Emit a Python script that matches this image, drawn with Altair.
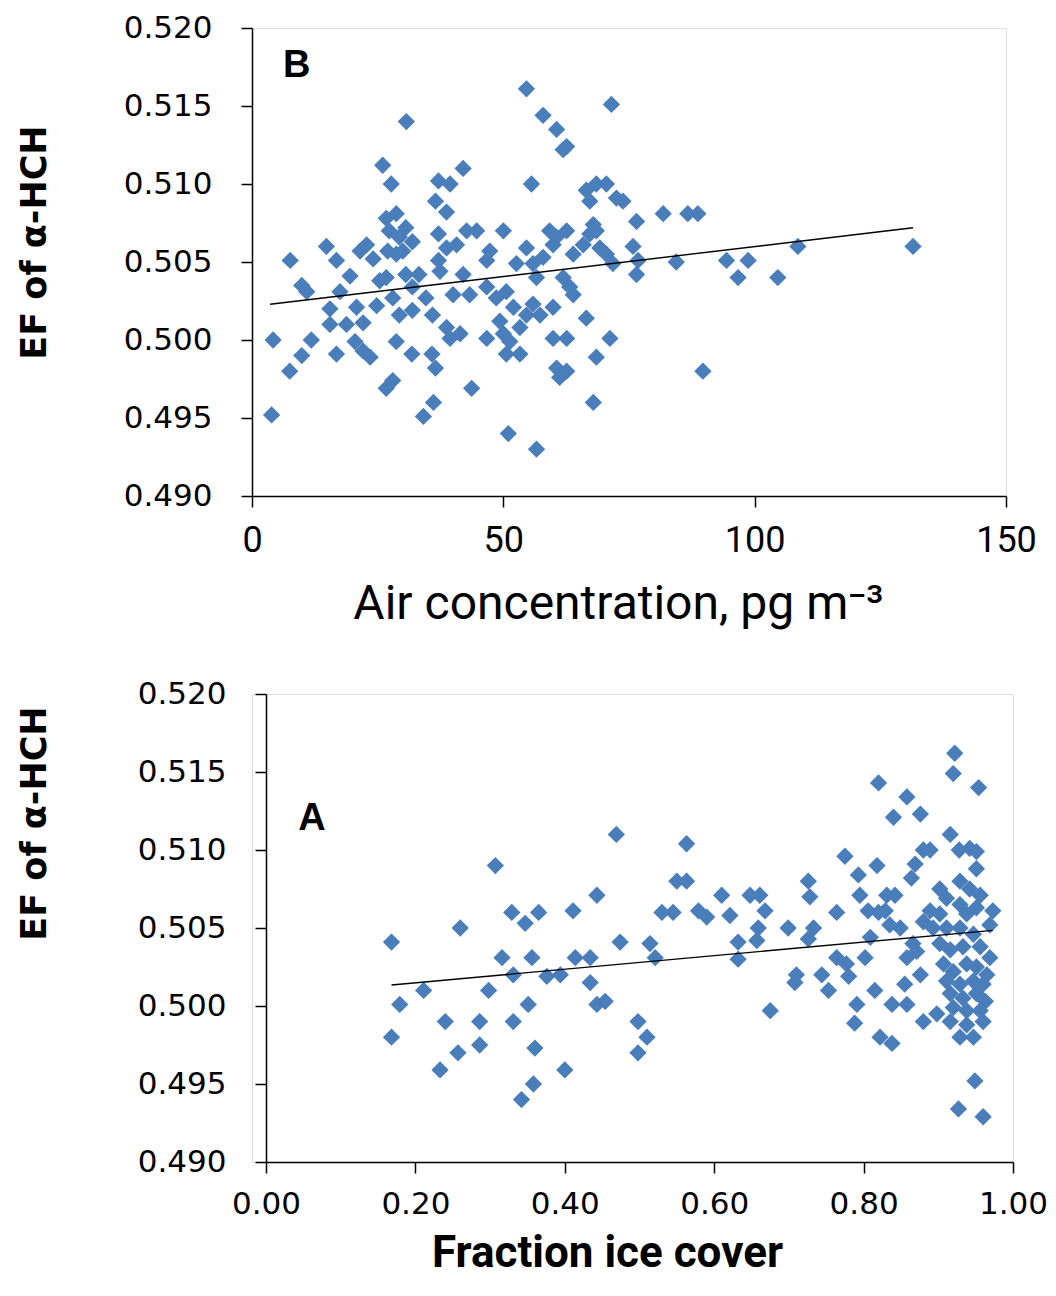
import altair as alt
import pandas as pd

# ---------------- Panel B (top): air concentration ----------------
air_x = [30.7, 7.6, 9.9, 10.9, 4.2, 11.8, 9.9, 7.5, 3.9, 14.8, 16.8, 16.8, 19.5, 17.5, 15.5, 15.5,
         18.8, 20.8, 22.1, 21.5, 22.8, 24.1, 20.5, 22.1, 23.5, 24.8, 25.4, 26.7, 28.0, 28.7, 26.0,
         27.7, 26.7, 28.7, 27.3, 29.3, 30.6, 31.9, 27.0, 28.7, 30.0, 26.7, 28.0, 30.6, 31.9, 33.2,
         34.6, 31.9, 29.3, 35.9, 31.8, 35.8, 36.5, 36.1, 34.1, 37.1, 36.5, 37.1, 37.1,
         54.6, 57.9, 60.6, 61.9, 62.6, 71.5, 42.0, 39.4, 38.7, 38.7, 40.7, 37.4, 42.7, 44.7, 50.0,
         47.3, 46.7, 42.0, 40.0, 43.3, 38.7, 41.4, 39.4, 46.7, 48.6, 50.6, 52.0, 49.3, 46.7, 50.0,
         51.3, 50.6, 53.3, 53.3, 54.6, 55.9, 57.3, 52.6, 54.6, 55.9, 57.9, 56.6, 55.6, 59.9, 59.2,
         60.6, 62.6, 59.9, 61.9, 63.2, 63.9, 63.9, 59.9, 62.6, 60.6, 62.6, 61.2, 43.7, 51.0, 56.6,
         66.5, 68.5, 67.9, 71.2, 66.5, 68.5, 70.5, 67.2, 67.9, 67.2, 65.9, 69.2, 68.5, 70.5, 71.8,
         72.5,
         73.8, 76.5, 81.8, 86.7, 88.7, 75.8, 76.8, 76.5, 84.4, 94.4, 98.7, 96.7, 104.6, 108.6,
         131.5, 89.7]
air_ef = [0.5140, 0.5051, 0.5035, 0.5031, 0.5000, 0.5000, 0.4990, 0.4980, 0.4952, 0.5060, 0.5051,
          0.4991, 0.5041, 0.5031, 0.5020, 0.5010, 0.5010, 0.5021, 0.5011, 0.5057, 0.5061, 0.5052,
          0.4999, 0.4993, 0.4989, 0.5022, 0.5038, 0.4969, 0.4974, 0.4999, 0.5112, 0.5100, 0.5078,
          0.5081, 0.5070, 0.5066, 0.5072, 0.5063, 0.5057, 0.5055, 0.5057, 0.5040, 0.5027, 0.5042,
          0.5034, 0.5042, 0.5027, 0.5019, 0.5016, 0.5016, 0.4991, 0.4991, 0.4982, 0.4960, 0.4951,
          0.5102, 0.5089, 0.5068, 0.5051,
          0.5161, 0.5144, 0.5135, 0.5122, 0.5124, 0.5151, 0.5110, 0.5100, 0.5082, 0.5059, 0.5061,
          0.5044, 0.5070, 0.5070, 0.5070, 0.5057, 0.5051, 0.5042, 0.5029, 0.5029, 0.5008, 0.5004,
          0.5001, 0.5034, 0.5027, 0.5031, 0.5021, 0.5012, 0.5001, 0.5004, 0.4999, 0.4991, 0.4991,
          0.5008, 0.5016, 0.5023, 0.5016, 0.5049, 0.5059, 0.5049, 0.5053, 0.5040, 0.5100, 0.5021,
          0.5070, 0.5066, 0.5070, 0.5061, 0.5040, 0.5034, 0.5055, 0.5029, 0.5001, 0.5001, 0.4982,
          0.4980, 0.4976, 0.4969, 0.4940, 0.4930, 0.5014, 0.4989, 0.4960, 0.5001, 0.5096, 0.5100,
          0.5100, 0.5089, 0.5074, 0.5068, 0.5061, 0.5059, 0.5070, 0.5055, 0.5049, 0.5091,
          0.5089, 0.5076, 0.5081, 0.5081, 0.5081, 0.5060, 0.5051, 0.5042, 0.5050, 0.5051, 0.5051,
          0.5040, 0.5040, 0.5060, 0.5060, 0.4980]
air_trend_x = [3.6, 131.5]
air_trend_y = [0.50229, 0.50720]
air_label = ["B"]
air_label_x = [8.9]
air_label_y = [0.51756]

# ---------------- Panel A (bottom): fraction ice cover ----------------
ice_x = [0.168, 0.179, 0.168, 0.211, 0.260, 0.240, 0.233, 0.257, 0.286, 0.286, 0.298, 0.307, 0.316,
         0.331, 0.329, 0.347, 0.365, 0.356, 0.351, 0.331, 0.360, 0.358, 0.342, 0.376,
         0.411, 0.443, 0.469, 0.414, 0.434, 0.394, 0.434, 0.443, 0.454, 0.474, 0.400, 0.498, 0.510,
         0.498, 0.514, 0.521, 0.530, 0.545, 0.550, 0.563, 0.563, 0.579, 0.590, 0.610, 0.621, 0.632,
         0.632, 0.648, 0.661, 0.668, 0.659, 0.657, 0.675,
         0.699, 0.726, 0.728, 0.733, 0.726, 0.764, 0.775, 0.793, 0.818, 0.795, 0.806, 0.820, 0.831,
         0.842, 0.829, 0.835, 0.849, 0.809, 0.802, 0.764, 0.777, 0.710, 0.708, 0.744, 0.753, 0.780,
         0.791, 0.788, 0.815, 0.822, 0.838, 0.838, 0.858, 0.855, 0.858, 0.871, 0.876, 0.880, 0.866,
         0.880, 0.889, 0.898, 0.820, 0.858, 0.840, 0.876, 0.922, 0.920, 0.954, 0.916, 0.880, 0.889,
         0.869, 0.864, 0.928, 0.942, 0.951, 0.951, 0.902, 0.911, 0.929, 0.942, 0.956, 0.929, 0.938,
         0.951, 0.973, 0.969, 0.902, 0.893, 0.911, 0.929, 0.947, 0.902, 0.916, 0.933, 0.956, 0.969,
         0.907, 0.920, 0.938, 0.951, 0.965, 0.911, 0.929, 0.947, 0.960, 0.916, 0.933, 0.951, 0.963,
         0.920, 0.938, 0.956, 0.916, 0.938, 0.960, 0.929, 0.947, 0.949, 0.927, 0.960]
ice_ef = [0.5041, 0.5001, 0.4980, 0.5010, 0.5050, 0.4990, 0.4959, 0.4970, 0.4990, 0.4975, 0.5010,
          0.5090, 0.5031, 0.5020, 0.5060, 0.5053, 0.5060, 0.5031, 0.5001, 0.4990, 0.4973, 0.4950,
          0.4940, 0.5019,
          0.5061, 0.5071, 0.5110, 0.5031, 0.5031, 0.5020, 0.5015, 0.5001, 0.5003, 0.5041, 0.4959,
          0.4990, 0.4980, 0.4970, 0.5040, 0.5031, 0.5060, 0.5060, 0.5080, 0.5080, 0.5104, 0.5061,
          0.5057, 0.5071, 0.5058, 0.5041, 0.5030, 0.5071, 0.5071, 0.5061, 0.5050, 0.5042, 0.4997,
          0.5050, 0.5080, 0.5070, 0.5050, 0.5043, 0.5060, 0.5096, 0.5084, 0.5090, 0.5071, 0.5061,
          0.5060, 0.5071, 0.5071, 0.5061, 0.5052, 0.5050, 0.5044, 0.5031, 0.5031, 0.5027, 0.5020,
          0.5015, 0.5020, 0.5010, 0.5019, 0.5001, 0.4989, 0.5010, 0.4980, 0.4976, 0.5001, 0.5001,
          0.5014, 0.5031, 0.5035, 0.5020, 0.4990, 0.5040, 0.5054, 0.5061, 0.4995, 0.5143, 0.5134,
          0.5121, 0.5123, 0.5162, 0.5149, 0.5140, 0.5110, 0.5100, 0.5100, 0.5091, 0.5082, 0.5100,
          0.5101, 0.5099, 0.5088, 0.5075, 0.5069, 0.5080, 0.5075, 0.5071, 0.5065, 0.5059, 0.5063,
          0.5061, 0.5052, 0.5059, 0.5050, 0.5050, 0.5050, 0.5046, 0.5040, 0.5036, 0.5038, 0.5038,
          0.5031, 0.5027, 0.5022, 0.5027, 0.5025, 0.5020, 0.5016, 0.5014, 0.5016, 0.5014, 0.5008,
          0.5005, 0.5008, 0.5003, 0.4999, 0.4997, 0.4997, 0.4990, 0.4988, 0.4990, 0.4980, 0.4980,
          0.4952, 0.4934, 0.4929]
ice_trend_x = [0.168, 0.973]
ice_trend_y = [0.50135, 0.50485]
ice_label = ["A"]
ice_label_x = [0.0616]
ice_label_y = [0.51199]

y_ticks = [0.490, 0.495, 0.500, 0.505, 0.510, 0.515, 0.520]
air_ticks = [0, 50, 100, 150]
ice_ticks = [0.0, 0.2, 0.4, 0.6, 0.8, 1.0]

BLUE = "#4A7EBB"
VERDANA = "DejaVu Sans"
NARROW = "Roboto"


def panel(xs, ys, tx, ty, lab, lx, ly, xdomain, xticks, xfmt, xtitle, xlabfont, xlabsize,
          xtitle_weight, xtitle_size, w, h, inset, ytitle_x, ytitle_y, xtitle_x, xtitle_y):
    pts = pd.DataFrame({"x": xs, "y": ys})
    trend = pd.DataFrame({"x": tx, "y": ty})
    labels = pd.DataFrame({"x": lx, "y": ly, "t": lab})
    xenc = alt.X("x:Q", scale=alt.Scale(domain=xdomain, nice=False, zero=False, range=[inset, w]),
                 axis=alt.Axis(values=xticks, format=xfmt, title=xtitle, grid=False,
                               labelFlush=False, labelOverlap=False,
                               labelFont=xlabfont, labelFontSize=xlabsize, labelColor="black",
                               labelPadding=16, tickSize=11, tickColor="black", tickWidth=1.5,
                               domainColor="black", domainWidth=1.5,
                               titleFont=NARROW, titleFontSize=xtitle_size,
                               titleFontWeight=xtitle_weight,
                               titleColor="black", titleX=xtitle_x, titleY=xtitle_y,
                               titleBaseline="alphabetic", titleAlign="center"))
    yenc = alt.Y("y:Q", scale=alt.Scale(domain=[0.490, 0.520], nice=False, zero=False),
                 axis=alt.Axis(values=y_ticks, format=".3f", title="EF of α-HCH", grid=False,
                               offset=-inset, labelFlush=False, labelOverlap=False,
                               labelFont=VERDANA, labelFontSize=31, labelColor="black",
                               labelPadding=29, tickSize=11, tickColor="black", tickWidth=1.5,
                               domainColor="black", domainWidth=1.5,
                               titleFont=VERDANA, titleFontSize=35, titleFontWeight="bold",
                               titleColor="black", titleX=ytitle_x, titleY=ytitle_y,
                               titleBaseline="middle", titleAlign="center", titleAngle=270))
    p = alt.Chart(pts).mark_point(shape="diamond", filled=True, size=300, color=BLUE,
                                  opacity=1).encode(x=xenc, y=yenc)
    ln = alt.Chart(trend).mark_line(color="black", strokeWidth=1.4).encode(x="x:Q", y="y:Q")
    tx_ = alt.Chart(labels).mark_text(font="Liberation Sans", fontWeight="bold", fontSize=38,
                                      color="black", align="center", baseline="middle").encode(
        x="x:Q", y="y:Q", text="t:N")
    return alt.layer(p, ln, tx_).properties(width=w, height=h)


top = panel(air_x, air_ef, air_trend_x, air_trend_y, air_label, air_label_x, air_label_y,
            [0, 150], air_ticks, "d", "Air concentration, pg m⁻³", NARROW, 36, "normal", 48,
            754, 468, 0, -218, 214, 366, 122)
bottom = panel(ice_x, ice_ef, ice_trend_x, ice_trend_y, ice_label, ice_label_x, ice_label_y,
               [0, 1], ice_ticks, ".2f", "Fraction ice cover", VERDANA, 31, "bold", 44,
               761, 468, 14, -232, 129, 355, 104)

chart = alt.vconcat(top, bottom, spacing=48).properties(
    padding={"left": 16, "top": 11, "right": 5, "bottom": 5}
).configure_view(stroke=None).configure(background="white")

chart.save("out.html", embed_options={"renderer": "svg", "actions": False})
